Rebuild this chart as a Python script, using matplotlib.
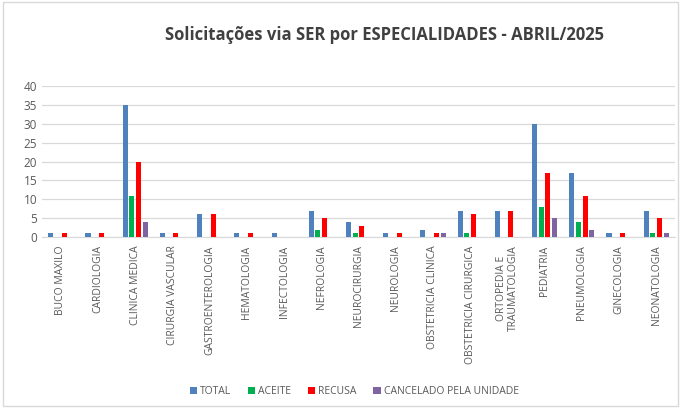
import numpy as np
import matplotlib
matplotlib.use("Agg")
import matplotlib.pyplot as plt
from matplotlib.patches import Rectangle

plt.rcParams['font.family'] = ['Open Sans', 'DejaVu Sans']

# ── DATA ──────────────────────────────────────────────────────────────────────
especialidades = ["BUCO MAXILO", "CARDIOLOGIA", "CLINICA MEDICA", "CIRURGIA VASCULAR",
                  "GASTROENTEROLOGIA", "HEMATOLOGIA", "INFECTOLOGIA", "NEFROLOGIA",
                  "NEUROCIRURGIA", "NEUROLOGIA", "OBSTETRICIA CLINICA",
                  "OBSTETRICIA CIRURGICA", "ORTOPEDIA E\nTRAUMATOLOGIA", "PEDIATRIA",
                  "PNEUMOLOGIA", "GINECOLOGIA", "NEONATOLOGIA"]
total     = [1, 1, 35, 1, 6, 1, 1, 7, 4, 1, 2, 7, 7, 30, 17, 1, 7]
aceite    = [0, 0, 11, 0, 0, 0, 0, 2, 1, 0, 0, 1, 0, 8, 4, 0, 1]
recusa    = [1, 1, 20, 1, 6, 1, 0, 5, 3, 1, 1, 6, 7, 17, 11, 1, 5]
cancelado = [0, 0, 4, 0, 0, 0, 0, 0, 0, 0, 1, 0, 0, 5, 2, 0, 1]

series = [("TOTAL", total, "#4F81BD"),
          ("ACEITE", aceite, "#00B050"),
          ("RECUSA", recusa, "#FF0000"),
          ("CANCELADO PELA UNIDADE", cancelado, "#8064A2")]

TXT = "#595959"

# ── CHART ─────────────────────────────────────────────────────────────────────
fig = plt.figure(figsize=(6.81, 4.08), dpi=100)
fig.patches.append(Rectangle((0.004, 0.004), 0.992, 0.992, transform=fig.transFigure,
                             fill=False, edgecolor="#d9d9d9", linewidth=1))
ax = fig.add_axes([0.062, 0.419, 0.929, 0.370])

x = np.arange(len(especialidades))
step = 0.18; w = 0.135
for i, (name, vals, col) in enumerate(series):
    ax.bar(x + (i - 1.5) * step, vals, width=w, color=col, label=name, zorder=3)

ax.set_xlim(-0.5, len(especialidades) - 0.5)
ax.set_ylim(0, 40)
ax.set_yticks(range(0, 41, 5))
ax.grid(axis="y", color="#d9d9d9", linewidth=0.9, zorder=0)
for s in ["top", "right", "left"]:
    ax.spines[s].set_visible(False)
ax.spines["bottom"].set_color("#d9d9d9")
ax.tick_params(axis="both", length=0, colors=TXT, labelsize=8.5)
ax.set_xticks(x)
ax.set_xticklabels(especialidades, rotation=90, fontsize=7.5, color=TXT,
                   va="top", ha="center", linespacing=1.1)
ax.tick_params(axis="x", pad=6)

fig.text(0.565, 0.915, "Solicitações via SER por ESPECIALIDADES - ABRIL/2025",
         ha="center", va="center", fontsize=12, fontweight="bold", color="#404040")

fig.legend(loc="center", bbox_to_anchor=(0.52, 0.04), ncol=4, frameon=False,
           fontsize=7.5, labelcolor=TXT, handlelength=0.7, handleheight=0.7,
           handletextpad=0.3, columnspacing=1.6)

plt.savefig("out.png", dpi=100)
